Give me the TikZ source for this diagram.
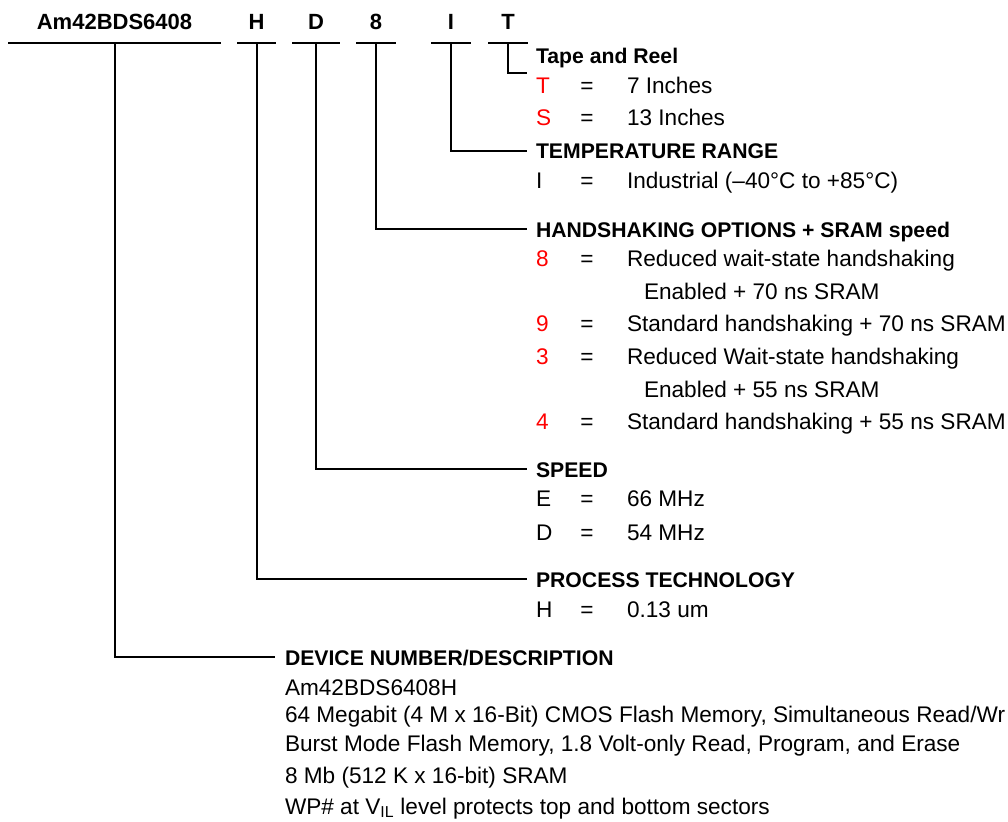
\documentclass[tikz,border=0pt]{standalone}
\usepackage{fontspec}
\setmainfont{Liberation Sans}
\usetikzlibrary{positioning}
\definecolor{optred}{RGB}{255,0,0}

\tikzset{
  field/.style={font=\fontsize{22}{26}\selectfont\bfseries, inner xsep=0pt, inner ysep=12pt, text height=16pt, text depth=0pt},
  heading/.style={anchor=west, font=\fontsize{21.2}{26}\selectfont\bfseries, inner xsep=8pt, inner ysep=0pt, text height=16pt, text depth=0pt},
  entry/.style={anchor=west, font=\fontsize{22.6}{27}\selectfont, inner sep=0pt, text height=16pt, text depth=0pt},
  equals/.style={entry, anchor=center},
}

\begin{document}
\begin{tikzpicture}[x=1pt, y=-1pt, line width=2pt]
  \useasboundingbox (0,0) rectangle (1008,821);
  \clip (0,0) rectangle (1008,821);

  % ordering code fields
  \node[field, minimum width=211pt] (f-dev) at (114.5,22) {Am42BDS6408};
  \node[field, minimum width=37pt] (f-h) at (256.5,22) {H};
  \node[field, minimum width=46pt] (f-d) at (316,22) {D};
  \node[field, minimum width=38pt] (f-8) at (376,22) {8};
  \node[field, minimum width=38pt] (f-i) at (451,22) {I};
  \node[field, minimum width=38pt] (f-t) at (508,22) {T};
  \foreach \f in {dev,h,d,8,i,t}
    \draw (f-\f.south west) -- (f-\f.south east);

  % section headings
  \node[heading] (h-tape) at (527,56) {Tape and Reel};
  \node[heading] (h-temp) at (527,151) {TEMPERATURE RANGE};
  \node[heading] (h-hand) at (527,229) {HANDSHAKING OPTIONS + SRAM speed};
  \node[heading] (h-speed) at (527,469) {SPEED};
  \node[heading] (h-proc) at (527,579) {PROCESS TECHNOLOGY};
  \node[heading, inner xsep=9pt] (h-dev) at (275,657) {DEVICE NUMBER/DESCRIPTION};

  % connectors
  \coordinate (tape-end) at (527,73);
  \draw (f-t.south) |- (tape-end);
  \draw (f-i.south) |- (h-temp.west);
  \draw (f-8.south) |- (h-hand.west);
  \draw (f-d.south) |- (h-speed.west);
  \draw (f-h.south) |- (h-proc.west);
  \draw (f-dev.south) |- (h-dev.west);

  % option rows
  \foreach \nm/\y/\k/\v/\c in {t/86/T/7 Inches/optred, s/118/S/13 Inches/optred,
      ind/181/I/{Industrial (–40°C to +85°C)}/black,
      8/258/8/Reduced wait-state handshaking/optred,
      9/323/9/{Standard handshaking + 70 ns SRAM}/optred,
      3/356/3/Reduced Wait-state handshaking/optred,
      4/421/4/{Standard handshaking + 55 ns SRAM}/optred,
      e/498/E/66 MHz/black, d/532/D/54 MHz/black, h/609/H/0.13 um/black}
  {
    \node[entry, text=\c] (k-\nm) at (535,\y) {\k};
    \node[equals] (e-\nm) at (587,\y) {=};
    \node[entry] (v-\nm) at (626,\y) {\v};
  }
  \node[entry] (c-8) at (643,291) {Enabled + 70 ns SRAM};
  \node[entry] (c-3) at (643,389) {Enabled + 55 ns SRAM};

  % device description
  \node[entry] (d-1) at (284,687) {Am42BDS6408H};
  \node[entry] (d-2) at (284,714) {64 Megabit (4 M x 16-Bit) CMOS Flash Memory, Simultaneous Read/Wr};
  \node[entry] (d-3) at (284,743) {Burst Mode Flash Memory, 1.8 Volt-only Read, Program, and Erase};
  \node[entry] (d-4) at (284,775) {8 Mb (512 K x 16-bit) SRAM};
  \node[entry] (d-5) at (284,806) {WP\# at V\textsubscript{IL} level protects top and bottom sectors};
\end{tikzpicture}
\end{document}
